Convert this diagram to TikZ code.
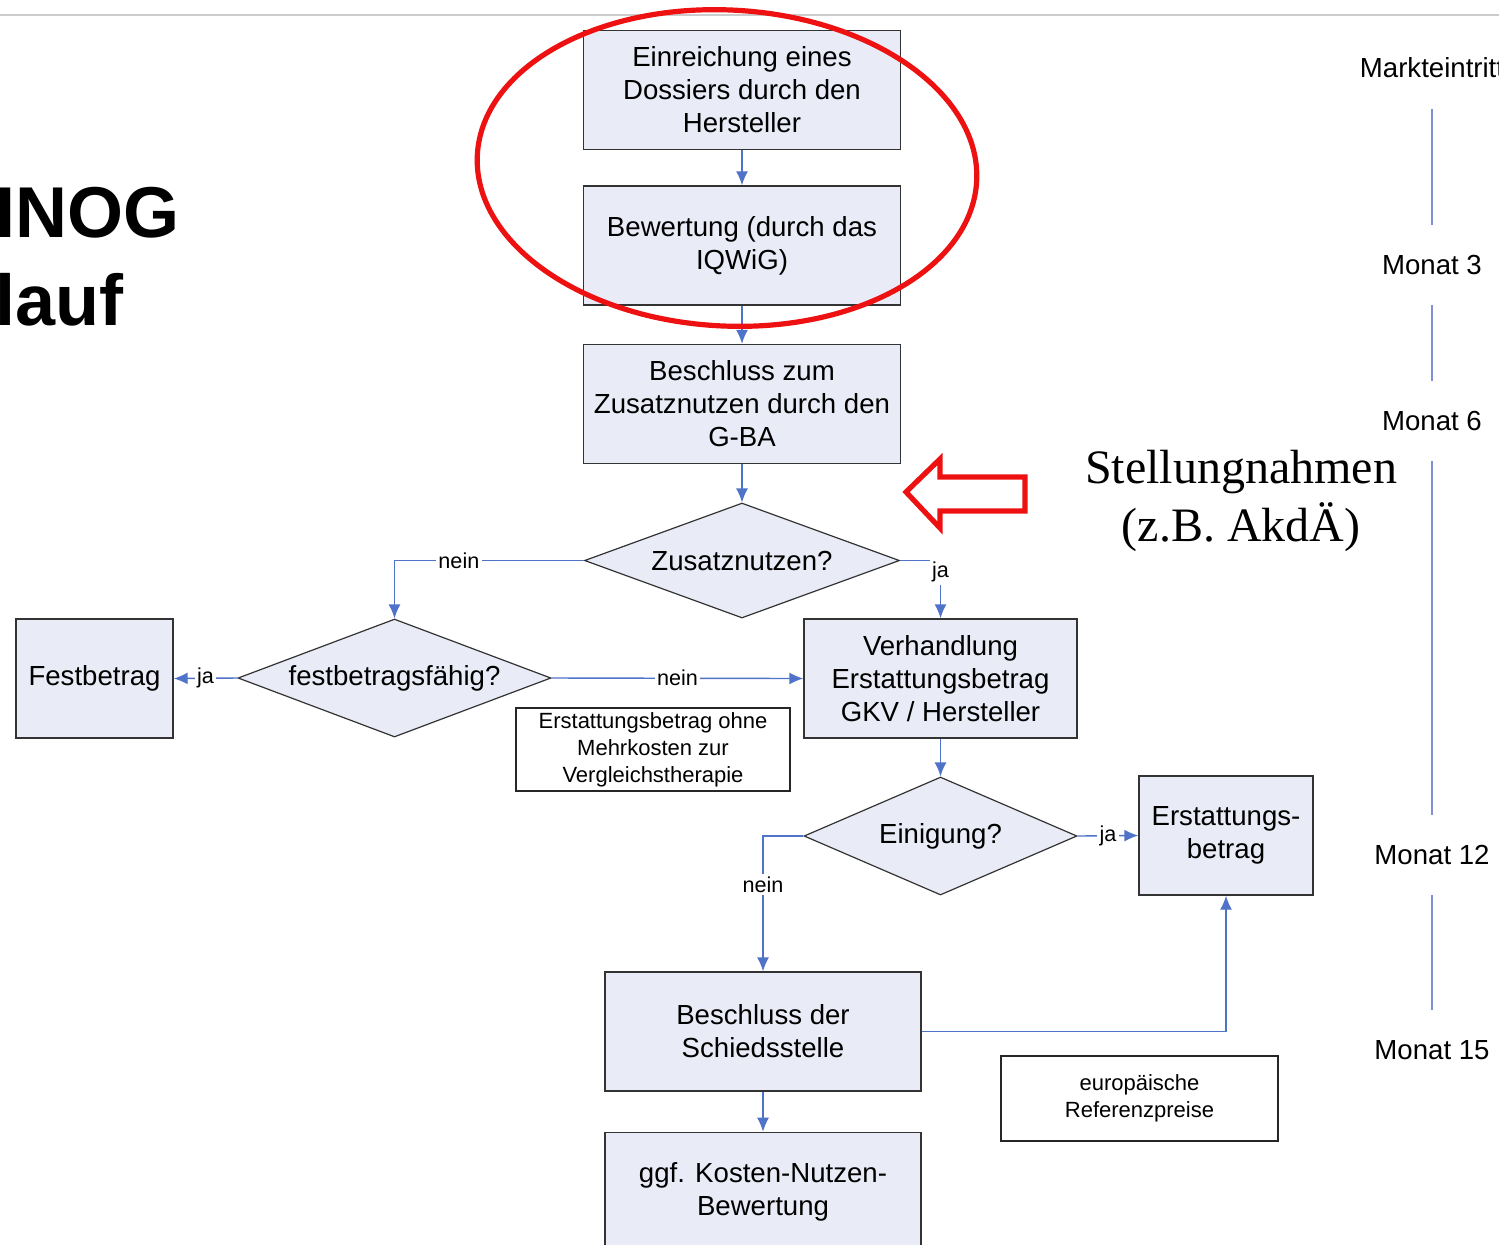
\documentclass[tikz,border=0pt]{standalone}
\usepackage{fontspec}
\setmainfont{Liberation Sans}
\newfontfamily\stellfont{Liberation Serif}
\usepackage{tikz}
\usetikzlibrary{positioning}
\usetikzlibrary{arrows.meta,shapes.geometric}
\usepackage{xcolor}
\definecolor{BoxFill}{HTML}{E9EBF6}
\definecolor{FlowBlue}{HTML}{4F73C9}
\definecolor{TimeBlue}{HTML}{8090D8}
\definecolor{MarkRed}{HTML}{EE1111}

\begin{document}
\begin{tikzpicture}[x=0.5pt,y=-0.5pt,
		procbox/.style={draw=black!80,line width=0.7pt,fill=BoxFill,align=center,inner sep=2pt,
			minimum height=59.5pt,font=\fontsize{13.8pt}{16.5pt}\selectfont},
		askbox/.style={diamond,draw=black!80,line width=0.6pt,fill=BoxFill,aspect=2.7,inner sep=0pt,
			minimum height=59pt,font=\fontsize{13.8pt}{16.5pt}\selectfont},
		notebox/.style={draw=black!85,line width=0.7pt,fill=white,align=center,inner sep=2pt,
			font=\fontsize{11pt}{13.5pt}\selectfont},
		yesno/.style={fill=white,inner sep=1.2pt,font=\fontsize{10.8pt}{12pt}\selectfont},
		flow/.style={draw=FlowBlue,line width=0.7pt,-{Latex[length=7pt,width=6pt]}},
		month/.style={inner sep=1pt,font=\fontsize{13.8pt}{16.5pt}\selectfont},
		timebar/.style={draw=TimeBlue,line width=0.6pt,shorten <=14pt,shorten >=14pt},
		redmark/.style={draw=MarkRed,line width=2.6pt}]
				\useasboundingbox (0,0) rectangle (1499,1244);
				\fill[white] (0,0) rectangle (1499,1244);
				\clip (0,0) rectangle (1499,1244);
				\draw[black!20,line width=1pt] (0,15) -- (1499,15);

				\node[anchor=base west,inner sep=0pt,font=\bfseries\fontsize{36pt}{40pt}\selectfont] (titel) at (-5,237) {INOG};
				\node[anchor=base west,inner sep=0pt,font=\bfseries\fontsize{36pt}{40pt}\selectfont] (titelb) at (-5,325) {lauf};

				\node[procbox,minimum width=158.5pt] (dossier) at (742,90) {Einreichung eines\\Dossiers durch den\\Hersteller};
				\node[procbox,minimum width=158.5pt] (iqwig) at (742,245.5) {Bewertung (durch das\\IQWiG)};
				\node[procbox,minimum width=158.5pt] (gba) at (742,404) {Beschluss zum\\Zusatznutzen durch den\\G-BA};
				\node[askbox,minimum width=157.5pt,minimum height=57.5pt] (zusatz) at (742,560.5) {Zusatznutzen?};
				\node[askbox,minimum width=156.5pt] (festfaehig) at (394.5,678) {festbetragsfähig?};
				\node[procbox,minimum width=78.5pt] (festbetrag) at (94.5,678.5) {Festbetrag};
				\node[procbox,minimum width=136.5pt] (verhandlung) at (940.5,678.5) {Verhandlung\\Erstattungsbetrag\\GKV / Hersteller};
				\node[notebox,minimum width=137pt,minimum height=41.5pt] (ohne) at (653,749.5) {Erstattungsbetrag ohne\\Mehrkosten zur\\Vergleichstherapie};
				\node[askbox,minimum width=136.5pt] (einigung) at (940.5,836) {Einigung?};
				\node[procbox,minimum width=87pt] (erstattung) at (1226,835.5) {Erstattungs-\\betrag};
				\node[procbox,minimum width=158pt] (schieds) at (763,1031.5) {Beschluss der\\Schiedsstelle};
				\node[procbox,minimum width=158pt,below=20pt of schieds] (kosten) {ggf. Kosten-Nutzen-\\Bewertung};
				\node[notebox,minimum width=138.5pt,minimum height=42.5pt] (referenz) at (1139.5,1098.5) {europäische\\Referenzpreise};

				\node[month] (markt) at (1432,68) {Markteintritt};
				\node[month] (m3) at (1432,265) {Monat 3};
				\node[month] (m6) at (1432,421) {Monat 6};
				\node[month] (m12) at (1432,855) {Monat 12};
				\node[month] (m15) at (1432,1050) {Monat 15};

				\node[align=center,font=\stellfont\fontsize{24pt}{29pt}\selectfont] (stellung) at (1241,501) {Stellungnahmen\\(z.B. AkdÄ)};

				\draw[flow] (dossier) -- (iqwig);
				\draw[flow] (iqwig) -- (gba);
				\draw[flow] (gba) -- (zusatz);
				\draw[flow] (zusatz.west) -| node[yesno,pos=0.33]{nein} (festfaehig.north);
				\draw[flow] (zusatz.east) -| node[yesno,pos=0.6]{ja} (verhandlung.north);
				\draw[flow] (festfaehig.west) -- node[yesno]{ja} (festbetrag.east);
				\draw[flow] (festfaehig.east) -- node[yesno]{nein} (verhandlung.west);
				\draw[flow] (verhandlung) -- (einigung);
				\draw[flow] (einigung.east) -- node[yesno]{ja} (erstattung.west);
				\draw[flow] (einigung.west) -| node[yesno,pos=0.68]{nein} (schieds.north);
				\draw[flow] (schieds.east) -| (erstattung.south);
				\draw[flow] (schieds) -- (kosten);

				\draw[timebar] (markt) -- (m3);
				\draw[timebar] (m3) -- (m6);
				\draw[timebar] (m6) -- (m12);
				\draw[timebar] (m12) -- (m15);

				\draw[redmark,rotate around={-3:(727,168)}] (727,168) ellipse [x radius=125pt,y radius=79pt];
				\draw[redmark,line join=miter] (906,492) -- (940,459) -- (940,477) -- (1025,477) -- (1025,511) -- (940,511) -- (940,528) -- cycle;

			\end{tikzpicture}
\end{document}
